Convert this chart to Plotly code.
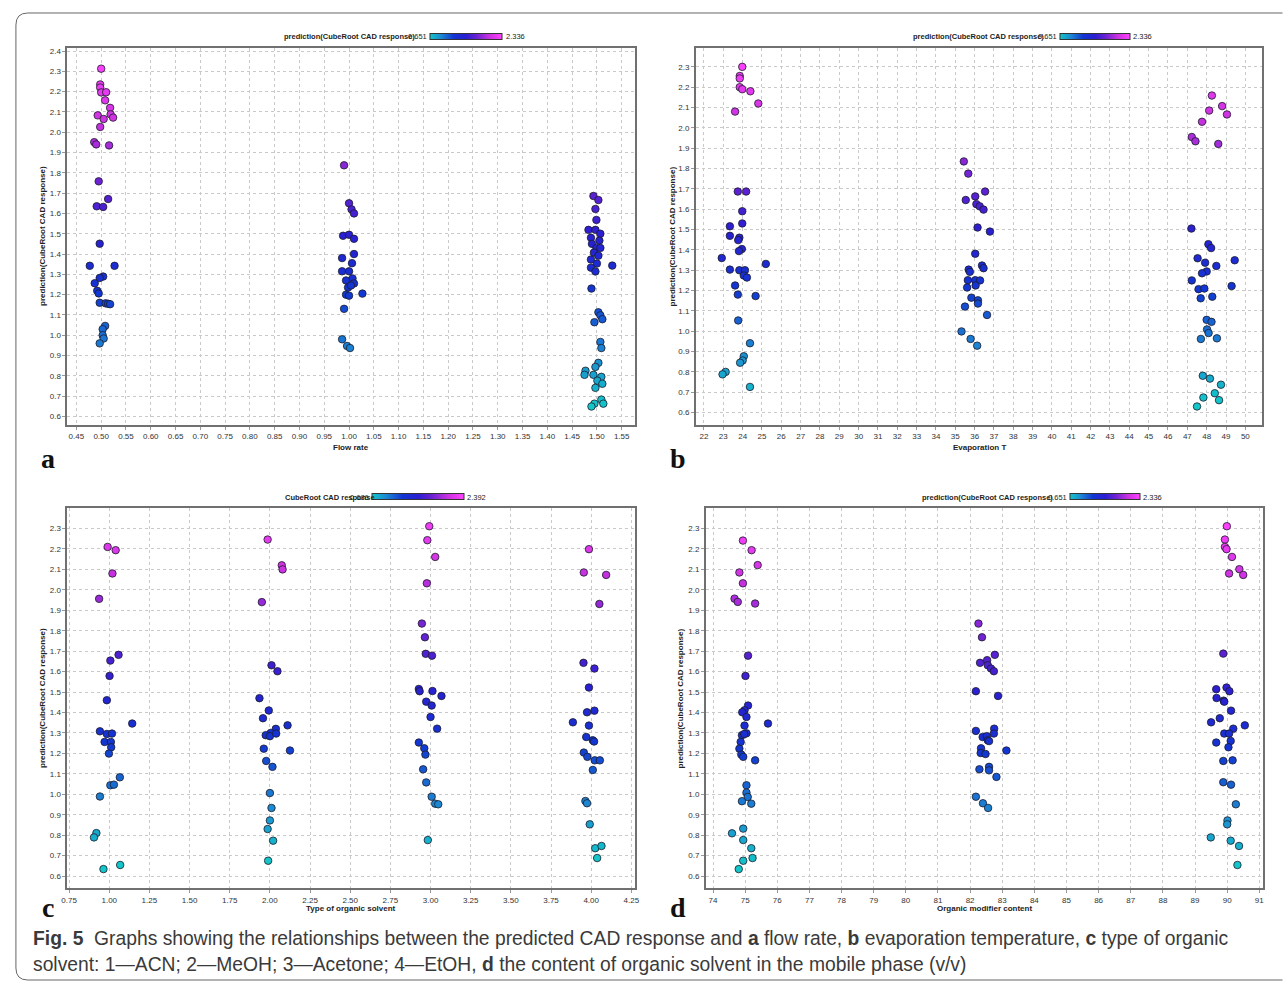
import plotly.graph_objects as go

W, H = 1285, 983

# ---------------- data ----------------
# a: flow rate
a_x = [0.500, 0.498, 0.498, 0.500, 0.510, 0.508, 0.518, 0.519, 0.493, 0.505, 0.524, 0.498, 0.486, 0.490, 0.516,
       0.495, 0.514, 0.491, 0.504, 0.497, 0.477, 0.527, 0.504, 0.497, 0.487, 0.492, 0.495, 0.497, 0.509, 0.514,
       0.518, 0.508, 0.503, 0.503, 0.505, 0.497,
       0.990, 1.000, 1.005, 1.010, 0.988, 1.000, 1.010, 1.010, 0.986, 1.006, 0.986, 1.000, 1.007, 0.994, 1.010,
       0.998, 1.004, 0.994, 1.000, 1.027, 0.990, 0.986, 0.996, 1.002,
       1.493, 1.503, 1.497, 1.499, 1.483, 1.497, 1.507, 1.488, 1.505, 1.490, 1.499, 1.507, 1.494, 1.503, 1.488,
       1.500, 1.488, 1.531, 1.497, 1.489, 1.503, 1.507, 1.511, 1.495, 1.507, 1.509, 1.503, 1.497, 1.477, 1.475,
       1.493, 1.509, 1.501, 1.511, 1.497, 1.509, 1.495, 1.513, 1.489]
a_y = [2.313, 2.235, 2.220, 2.196, 2.197, 2.157, 2.120, 2.088, 2.083, 2.065, 2.072, 2.026, 1.951, 1.940, 1.935,
       1.758, 1.671, 1.635, 1.632, 1.451, 1.342, 1.342, 1.289, 1.282, 1.256, 1.219, 1.206, 1.160, 1.157, 1.155,
       1.153, 1.046, 1.030, 1.000, 0.984, 0.960,
       1.837, 1.650, 1.620, 1.600, 1.490, 1.495, 1.475, 1.400, 1.380, 1.355, 1.315, 1.315, 1.280, 1.270, 1.255,
       1.235, 1.245, 1.200, 1.195, 1.205, 1.130, 0.980, 0.947, 0.937,
       1.686, 1.666, 1.622, 1.568, 1.519, 1.519, 1.500, 1.480, 1.466, 1.450, 1.430, 1.430, 1.407, 1.392, 1.373,
       1.353, 1.333, 1.343, 1.314, 1.230, 1.113, 1.098, 1.079, 1.064, 0.967, 0.937, 0.864, 0.844, 0.825, 0.805,
       0.805, 0.795, 0.776, 0.761, 0.741, 0.683, 0.663, 0.663, 0.649]

# b: evaporation temperature
b_x = [23.98, 23.85, 23.85, 23.85, 23.98, 24.40, 24.81, 23.61, 23.75, 24.18, 23.98, 23.98, 23.34, 23.34, 23.83,
       23.77, 23.96, 23.81, 22.92, 23.34, 23.83, 24.12, 25.20, 24.06, 24.22, 23.61, 23.75, 24.67, 23.77, 24.38,
       24.06, 24.00, 23.87, 23.12, 22.96, 24.38,
       35.44, 35.67, 36.54, 35.54, 36.03, 36.09, 36.26, 36.46, 36.15, 36.79, 36.03, 36.38, 36.46, 35.69, 35.75,
       35.65, 36.03, 36.28, 35.61, 36.05, 35.83, 36.17, 36.17, 35.50, 36.64, 35.32, 35.79, 36.13,
       48.27, 48.80, 48.13, 49.05, 47.76, 47.23, 47.42, 48.60, 47.21, 48.09, 48.23, 49.45, 47.53, 47.92, 48.50,
       48.00, 47.76, 47.23, 47.58, 47.88, 49.29, 47.69, 48.29, 48.00, 48.25, 48.02, 48.10, 47.70, 48.53, 47.80,
       48.17, 48.74, 48.42, 47.83, 48.64, 47.50]
b_y = [2.300, 2.255, 2.243, 2.200, 2.190, 2.180, 2.120, 2.080, 1.687, 1.687, 1.590, 1.530, 1.516, 1.469, 1.460,
       1.448, 1.404, 1.394, 1.360, 1.303, 1.300, 1.300, 1.331, 1.274, 1.264, 1.225, 1.180, 1.173, 1.053, 0.941,
       0.877, 0.856, 0.845, 0.800, 0.788, 0.726,
       1.835, 1.775, 1.687, 1.645, 1.663, 1.625, 1.614, 1.598, 1.510, 1.490, 1.381, 1.323, 1.310, 1.303, 1.292,
       1.251, 1.251, 1.250, 1.215, 1.225, 1.165, 1.152, 1.136, 1.121, 1.080, 0.999, 0.962, 0.929,
       2.159, 2.107, 2.085, 2.066, 2.030, 1.955, 1.934, 1.921, 1.505, 1.428, 1.409, 1.349, 1.359, 1.337, 1.321,
       1.294, 1.285, 1.250, 1.207, 1.210, 1.222, 1.162, 1.170, 1.056, 1.046, 1.009, 0.991, 0.962, 0.965, 0.781,
       0.767, 0.737, 0.695, 0.674, 0.661, 0.630]

# c: type of organic solvent
c_x = [0.990, 1.040, 1.020, 0.937, 1.058, 1.007, 1.002, 0.985, 0.942, 0.985, 1.017, 1.143, 0.971, 1.010, 1.012,
       0.998, 1.066, 1.007, 1.029, 0.942, 0.920, 0.905, 0.964, 1.068,
       1.986, 2.074, 2.079, 1.950, 2.010, 2.047, 1.935, 1.993, 1.957, 2.110, 2.037, 2.005, 1.974, 2.000, 2.039,
       1.962, 2.125, 1.977, 2.016, 2.000, 2.010, 2.000, 1.986, 2.020, 1.989,
       2.992, 2.980, 3.029, 2.977, 2.946, 2.965, 2.970, 3.009, 2.927, 2.932, 3.012, 3.068, 2.973, 3.007, 3.000,
       3.041, 2.927, 2.961, 2.968, 2.954, 2.973, 3.007, 3.029, 3.048, 2.983,
       3.986, 3.954, 4.093, 4.051, 3.952, 4.020, 3.986, 3.974, 4.020, 3.886, 3.986, 3.969, 4.010, 4.018, 3.954,
       3.976, 4.022, 4.054, 4.010, 3.964, 3.974, 3.991, 4.025, 4.064, 4.037]
c_y = [2.210, 2.194, 2.080, 1.956, 1.682, 1.654, 1.579, 1.460, 1.308, 1.295, 1.297, 1.346, 1.256, 1.256, 1.230,
       1.199, 1.083, 1.044, 1.047, 0.989, 0.810, 0.789, 0.634, 0.654,
       2.246, 2.120, 2.100, 1.940, 1.631, 1.602, 1.470, 1.410, 1.372, 1.337, 1.320, 1.300, 1.289, 1.284, 1.297,
       1.223, 1.214, 1.163, 1.134, 1.006, 0.933, 0.872, 0.830, 0.773, 0.675,
       2.311, 2.243, 2.161, 2.032, 1.835, 1.768, 1.687, 1.678, 1.515, 1.504, 1.505, 1.481, 1.453, 1.434, 1.378,
       1.321, 1.253, 1.225, 1.194, 1.122, 1.058, 0.988, 0.954, 0.951, 0.776,
       2.199, 2.085, 2.073, 1.931, 1.643, 1.615, 1.522, 1.401, 1.409, 1.352, 1.336, 1.280, 1.264, 1.258, 1.204,
       1.183, 1.166, 1.166, 1.119, 0.967, 0.956, 0.853, 0.736, 0.747, 0.688]

# d: organic modifier content
d_x = [74.93, 75.20, 75.39, 74.82, 74.93, 74.67, 74.77, 75.31, 75.09, 75.01, 75.09, 74.98, 74.91, 75.71, 75.04,
       74.98, 75.04, 74.90, 74.97, 74.86, 74.82, 74.88, 74.94, 75.31, 75.04, 75.04, 75.08, 74.90, 75.19, 74.94,
       74.59, 74.94, 75.19, 75.23, 74.94, 74.80,
       82.26, 82.37, 82.77, 82.53, 82.31, 82.55, 82.65, 82.74, 82.18, 82.87, 82.75, 82.18, 82.74, 82.39, 82.52,
       82.55, 82.59, 82.34, 82.33, 82.48, 83.13, 82.59, 82.29, 82.59, 82.82, 82.18, 82.40, 82.56,
       89.99, 89.93, 89.93, 89.98, 90.15, 90.38, 90.06, 90.50, 89.88, 89.66, 89.98, 90.07, 89.67, 89.89, 89.91,
       90.12, 89.77, 89.50, 90.55, 90.19, 89.91, 90.06, 89.66, 90.11, 90.04, 89.88, 90.17, 89.88, 90.12, 90.27,
       90.01, 90.00, 89.49, 90.11, 90.37, 90.32]
d_y = [2.241, 2.194, 2.121, 2.085, 2.032, 1.957, 1.941, 1.933, 1.678, 1.579, 1.434, 1.411, 1.401, 1.346, 1.378,
       1.336, 1.298, 1.289, 1.295, 1.256, 1.223, 1.194, 1.183, 1.166, 1.044, 1.008, 0.987, 0.966, 0.954, 0.832,
       0.809, 0.776, 0.736, 0.688, 0.675, 0.634,
       1.835, 1.768, 1.682, 1.656, 1.643, 1.631, 1.615, 1.602, 1.504, 1.481, 1.321, 1.310, 1.297, 1.280, 1.284,
       1.264, 1.260, 1.225, 1.202, 1.197, 1.214, 1.134, 1.122, 1.117, 1.085, 0.988, 0.956, 0.933,
       2.311, 2.246, 2.210, 2.199, 2.161, 2.101, 2.080, 2.073, 1.688, 1.514, 1.522, 1.504, 1.471, 1.458, 1.453,
       1.409, 1.372, 1.352, 1.337, 1.321, 1.297, 1.297, 1.253, 1.261, 1.230, 1.163, 1.166, 1.059, 1.047, 0.951,
       0.872, 0.853, 0.789, 0.773, 0.747, 0.654]

x_titles = ["Flow rate", "Evaporation T", "Type of organic solvent", "Organic modifier content"]
y_title = "prediction(CubeRoot CAD response)"
cb_titles = ["prediction(CubeRoot CAD response)", "prediction(CubeRoot CAD response)",
             "CubeRoot CAD response", "prediction(CubeRoot CAD response)"]
cb_min = [0.651, 0.651, 0.686, 0.651]
cb_max = [2.336, 2.336, 2.392, 2.336]
cb_min_labels = ["0.651", "0.651", "0.686", "0.651"]
cb_max_labels = ["2.336", "2.336", "2.392", "2.336"]
panel_letters = ["a", "b", "c", "d"]
caption_1 = ("<b>Fig. 5</b>  Graphs showing the relationships between the predicted CAD response and "
             "<b>a</b> flow rate, <b>b</b> evaporation temperature, <b>c</b> type of organic")
caption_2 = ("solvent: 1\u2014ACN; 2\u2014MeOH; 3\u2014Acetone; 4\u2014EtOH, <b>d</b> the content of organic "
             "solvent in the mobile phase (v/v)")

# ---------------- styling / layout ----------------
colorscale = [[0.0, "#12c6c9"], [0.15, "#1c8ad2"], [0.33, "#1236d2"], [0.5, "#2a1fd2"],
              [0.65, "#6a22d2"], [0.83, "#cc32e0"], [1.0, "#ff42ff"]]

panels = [
    dict(xs=a_x, ys=a_y, px=(62, 634), py=(47, 424), xr=[0.432, 1.576], yr=[0.56, 2.415], dtx=0.05, fmt=".2f",
         cb=(428, 500, 36), cbt=278, ylab=37, let=(42, 458), xt=447),
    dict(xs=b_x, ys=b_y, px=(696, 1267), py=(47, 424), xr=[21.59, 50.87], yr=[0.541, 2.393], dtx=1, fmt="d",
         cb=(1063, 1133, 36), cbt=913, ylab=672, let=(678, 458), xt=447),
    dict(xs=c_x, ys=c_y, px=(62, 634), py=(508, 888), xr=[0.74, 4.27], yr=[0.541, 2.398], dtx=0.25, fmt=".2f",
         cb=(369, 461, 497), cbt=279, ylab=37, let=(42, 907), xt=908),
    dict(xs=d_x, ys=d_y, px=(706, 1268), py=(508, 888), xr=[73.78, 91.12], yr=[0.541, 2.398], dtx=1, fmt="d",
         cb=(1073, 1143, 497), cbt=922, ylab=680, let=(678, 907), xt=908),
]

FONT = "Liberation Sans, Arial, sans-serif"


def fx(p):
    return p / W


def fy(p):
    return 1 - p / H


fig = go.Figure()
annotations = []
layout_axes = {}

for i, p in enumerate(panels):
    n = i + 1
    sfx = "" if n == 1 else str(n)
    fig.add_trace(go.Scatter(
        x=p["xs"], y=p["ys"], mode="markers", xaxis="x" + sfx, yaxis="y" + sfx, showlegend=False,
        marker=dict(size=7.5, color=p["ys"], colorscale=colorscale, cmin=cb_min[i], cmax=cb_max[i],
                    line=dict(color="#1c1c2a", width=0.8), showscale=True,
                    colorbar=dict(orientation="h", x=fx(p["cb"][0]), xanchor="left", y=fy(p["cb"][2]),
                                  yanchor="middle", len=p["cb"][1] - p["cb"][0], lenmode="pixels",
                                  thickness=6, thicknessmode="pixels", xpad=0, ypad=0,
                                  showticklabels=False, ticks="", outlinewidth=1, outlinecolor="#333",
                                  borderwidth=0))))
    common = dict(showgrid=True, gridcolor="#c9c9c9", griddash="dot", gridwidth=1, showline=True, mirror=True,
                  linecolor="#707070", linewidth=2, ticks="outside", ticklen=3, tickcolor="#999",
                  tickfont=dict(size=8, color="#333", family=FONT), zeroline=False)
    layout_axes["xaxis" + sfx] = dict(domain=[fx(p["px"][0]), fx(p["px"][1])], range=p["xr"], dtick=p["dtx"],
                                      tick0=0, tickformat=p["fmt"], anchor="y" + sfx, **common)
    layout_axes["yaxis" + sfx] = dict(domain=[fy(p["py"][1]), fy(p["py"][0])], range=p["yr"], dtick=0.1,
                                      tick0=0, tickformat=".1f", anchor="x" + sfx, **common)
    cx = (p["px"][0] + p["px"][1]) / 2
    cy = (p["py"][0] + p["py"][1]) / 2
    # axis titles
    annotations.append(dict(x=fx(cx), y=fy(p["xt"]), xref="paper", yref="paper", text="<b>%s</b>" % x_titles[i],
                            showarrow=False, font=dict(size=8, color="#222", family=FONT),
                            xanchor="center", yanchor="middle"))
    annotations.append(dict(x=fx(p["ylab"]), y=fy(cy), xref="paper", yref="paper", text="<b>%s</b>" % y_title,
                            showarrow=False, textangle=-90, font=dict(size=8, color="#222", family=FONT),
                            xanchor="center", yanchor="middle"))
    # colour bar texts
    annotations.append(dict(x=fx(p["cbt"]), y=fy(p["cb"][2]), xref="paper", yref="paper",
                            text="<b>%s</b>" % cb_titles[i], showarrow=False,
                            font=dict(size=7.5, color="#222", family=FONT), xanchor="left", yanchor="middle"))
    annotations.append(dict(x=fx(p["cb"][0] - 1), y=fy(p["cb"][2]), xref="paper", yref="paper",
                            text=cb_min_labels[i], showarrow=False,
                            font=dict(size=7.5, color="#222", family=FONT), xanchor="right", yanchor="middle"))
    annotations.append(dict(x=fx(p["cb"][1] + 2), y=fy(p["cb"][2]), xref="paper", yref="paper",
                            text=cb_max_labels[i], showarrow=False,
                            font=dict(size=7.5, color="#222", family=FONT), xanchor="left", yanchor="middle"))
    # panel letter
    annotations.append(dict(x=fx(p["let"][0]), y=fy(p["let"][1]), xref="paper", yref="paper",
                            text="<b>%s</b>" % panel_letters[i], showarrow=False,
                            font=dict(size=28, color="#111", family="Liberation Serif, Times New Roman, serif"),
                            xanchor="center", yanchor="middle"))

annotations.append(dict(x=fx(25), y=fy(938), xref="paper", yref="paper", text=caption_1, showarrow=False,
                        font=dict(size=19.3, color="#3a3a3a", family=FONT), xanchor="left", yanchor="middle"))
annotations.append(dict(x=fx(25), y=fy(964), xref="paper", yref="paper", text=caption_2, showarrow=False,
                        font=dict(size=19.3, color="#3a3a3a", family=FONT), xanchor="left", yanchor="middle"))

frame_path = ("M 1.002 {t} L {x1} {t} Q {x0} {t} {x0} {t2} L {x0} {b2} Q {x0} {b} {x1} {b} L 1.002 {b}"
              .format(t=fy(12), t2=fy(24), b=fy(980), b2=fy(968), x0=fx(10), x1=fx(22)))

fig.update_layout(width=W, height=H, margin=dict(l=0, r=0, t=0, b=0, pad=0), paper_bgcolor="white",
                  plot_bgcolor="white", font=dict(family=FONT), annotations=annotations,
                  shapes=[dict(type="path", path=frame_path, xref="paper", yref="paper",
                               line=dict(color="#666", width=1))],
                  **layout_axes)

fig.write_html("out.html", config={"displayModeBar": False},
               post_script="document.body.style.margin='0';document.body.style.overflow='hidden';")
